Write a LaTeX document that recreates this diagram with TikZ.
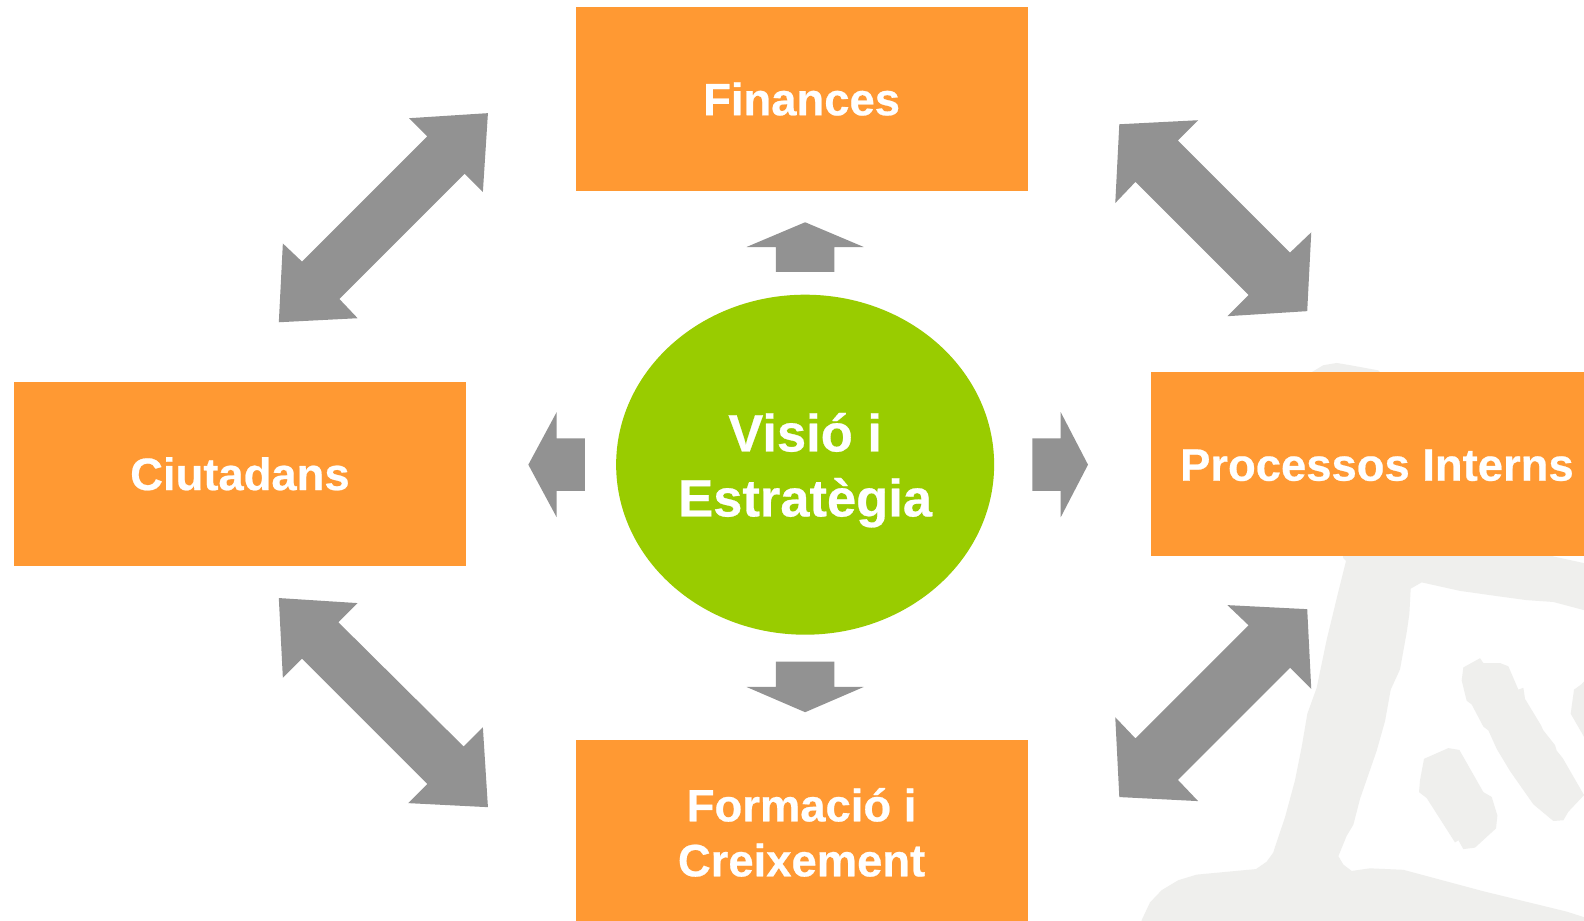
\documentclass[tikz,border=0pt]{standalone}
\usepackage{fontspec}
\setmainfont[BoldFeatures={FakeBold=0.5}]{Liberation Sans}
\definecolor{boxorange}{HTML}{FF9933}
\definecolor{visiogreen}{HTML}{99CC00}
\definecolor{arrowgray}{HTML}{929292}
\definecolor{mapgray}{HTML}{EFEFED}
\tikzset{
  boxnode/.style={fill=boxorange,draw=none,minimum width=452pt,minimum height=184pt,inner sep=0pt,text=white,align=center,font=\fontsize{45.4}{55}\selectfont\bfseries},
  hubnode/.style={ellipse,fill=visiogreen,draw=none,minimum width=378pt,minimum height=340pt,inner sep=0pt,text=white,align=center,font=\fontsize{52.5}{65}\selectfont\bfseries},
  blockarrow/.style={fill=arrowgray,draw=none},
  mapshape/.style={fill=mapgray,draw=none}
}
\usetikzlibrary{shapes.geometric}
\begin{document}
\begin{tikzpicture}[x=1.0102pt,y=-1.0102pt]
\useasboundingbox (0,0) rectangle (1568,911);
\clip (0,0) rectangle (1568,911);
\fill[white] (0,0) rectangle (1568,911);
% background map, traced in zoom coordinates
\begin{scope}[shift={(1108.7,336.6)},x=0.33333pt*1.0,y=-0.36995pt]
\fill[mapshape,even odd rule]
 (575,87)--(610,68)--(650,62)--(690,68)--(775,82)--(1300,585)--(1392,603)--(1392,730)--(1300,708)--(1220,703)--(1130,692)--(1020,678)--(905,655)--(872,672)--(868,740)--(860,790)--(840,890)--(812,945)--(795,1030)--(770,1110)--(720,1240)--(700,1310)--(680,1340)--(655,1395)--(670,1418)--(695,1435)--(750,1428)--(850,1432)--(1090,1490)--(1340,1545)--(1392,1560)--(1392,1600)--(60,1600)--(65,1568)--(90,1520)--(125,1487)--(175,1460)--(230,1445)--(408,1430)--(440,1410)--(460,1385)--(465,1370)--(495,1290)--(525,1190)--(545,1100)--(562,1010)--(590,940)--(620,810)--(655,680)--(678,597)--(670,590)--cycle;
\fill[mapshape] (1030,885)--(1080,860)--(1090,873)--(1140,873)--(1165,882)--(1195,945)--(1210,940)--(1215,970)--(1262,1040)--(1270,1055)--(1305,1095)--(1310,1110)--(1328,1130)--(1392,1230)--(1345,1275)--(1330,1298)--(1300,1300)--(1240,1255)--(1170,1165)--(1130,1105)--(1105,1055)--(1090,1045)--(1055,985)--(1040,975)--(1025,920)--cycle;
\fill[mapshape] (912,1132)--(985,1103)--(1018,1108)--(1090,1222)--(1115,1235)--(1132,1285)--(1128,1320)--(1065,1372)--(1030,1376)--(1015,1352)--(1005,1358)--(920,1238)--(897,1222)--(900,1190)--cycle;
\fill[mapshape] (1400,915)--(1385,930)--(1362,945)--(1352,1010)--(1400,1085)--cycle;
\end{scope}
% nodes
\node[boxnode] (fin) at (793.5,98) {Finances};
\node[boxnode] (ciu) at (237.5,469) {Ciutadans};
\node[boxnode] (pro) at (1363,459) {\smash{\raisebox{-17pt}{Processos Interns}}};
\node[boxnode] (for) at (793.5,824) {Formació i\\Creixement};
\node[hubnode] (vis) at (797,460) {\smash{\raisebox{-19.2pt}{Visió i}}\\\smash{\raisebox{-19.2pt}{Estratègia}}};
% diagonal double arrows
\fill[blockarrow] (483,112)--(405,117)--(423,135)--(299,259)--(280,241)--(276,319)--(354,315)--(336,296)--(460,172)--(478,190)--cycle;
\fill[blockarrow] (276,592)--(354,597)--(335,616)--(459,739)--(478,720)--(483,799)--(404,795)--(423,776)--(299,652)--(280,671)--cycle;
\fill[blockarrow] (1108,123)--(1186,119)--(1166,139)--(1277,250)--(1298,230)--(1294,308)--(1215,313)--(1236,292)--(1124,180)--(1104,201)--cycle;
\fill[blockarrow] (1294,603)--(1298,682)--(1277,661)--(1166,772)--(1186,793)--(1108,789)--(1104,710)--(1124,731)--(1236,619)--(1215,599)--cycle;
% hub arrows
\fill[blockarrow] (797,220)--(855,244.5)--(826,244.5)--(826,269)--(768,269)--(768,244.5)--(739,244.5)--cycle;
\fill[blockarrow] (797,705)--(855,680)--(826,680)--(826,655)--(768,655)--(768,680)--(739,680)--cycle;
\fill[blockarrow] (523,460)--(551,408)--(551,434)--(579,434)--(579,486)--(551,486)--(551,512)--cycle;
\fill[blockarrow] (1077,460)--(1050,408)--(1050,434)--(1022,434)--(1022,486)--(1050,486)--(1050,512)--cycle;
\end{tikzpicture}
\end{document}
